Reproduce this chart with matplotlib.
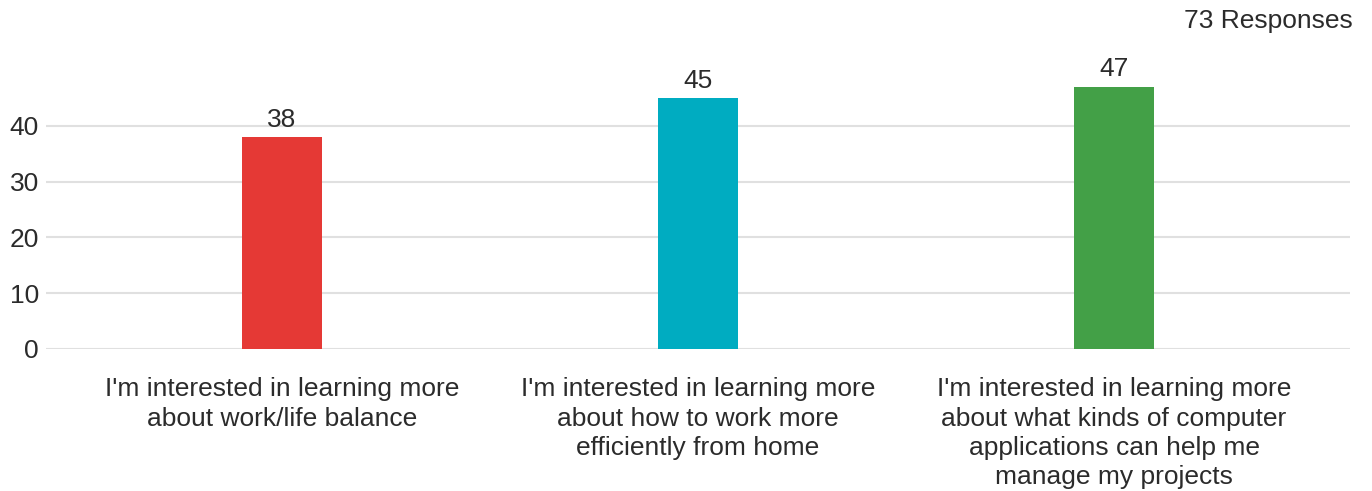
import matplotlib
matplotlib.use("Agg")
import matplotlib.pyplot as plt

categories = [
    "I'm interested in learning more\nabout work/life balance",
    "I'm interested in learning more\nabout how to work more\nefficiently from home",
    "I'm interested in learning more\nabout what kinds of computer\napplications can help me\nmanage my projects",
]
counts = [38, 45, 47]
bar_colors = ["#E53935", "#00ACC1", "#43A047"]
y_ticks = [0, 10, 20, 30, 40]
total_label = "73 Responses"

plt.rcParams["font.family"] = ["Liberation Sans", "DejaVu Sans"]
text_color = "#2B2B2B"
fsize = 19

W, H = 1372, 491
fig = plt.figure(figsize=(W / 100, H / 100), dpi=100)

# axes box in pixels: left 46, right 1350, zero line at y=349, ylim 0..50
y0_px = 349
px_per_unit = (349 - 126) / 40
top_px = y0_px - 50 * px_per_unit
ax = fig.add_axes([46 / W, (H - y0_px) / H, (1350 - 46) / W, (y0_px - top_px) / H])

x = list(range(len(categories)))
ax.bar(x, counts, width=80 / 416, color=bar_colors, zorder=3)
ax.set_xlim(-0.567, 2.567)
ax.set_ylim(0, 50)

ax.set_yticks(y_ticks)
ax.set_yticklabels([str(v) for v in y_ticks], fontsize=fsize, color=text_color)
ax.set_xticks(x)
ax.set_xticklabels(categories, fontsize=fsize, color=text_color, linespacing=1.27, va="top")
ax.tick_params(axis="both", length=0)
ax.tick_params(axis="y", pad=5)
ax.tick_params(axis="x", pad=20.5)

ax.grid(axis="y", color="#E0E0E0", linewidth=1.5, zorder=0)
for s in ax.spines.values():
    s.set_visible(False)

for xi, v in zip(x, counts):
    ax.annotate(str(v), (xi, v), xytext=(0, 4), textcoords="offset points",
                ha="center", va="bottom", fontsize=fsize, color=text_color)

fig.text(1353 / W, 1 - 28 / H, total_label, ha="right", va="baseline",
         fontsize=fsize, color=text_color)

fig.savefig("out.png", dpi=100, facecolor="white")
